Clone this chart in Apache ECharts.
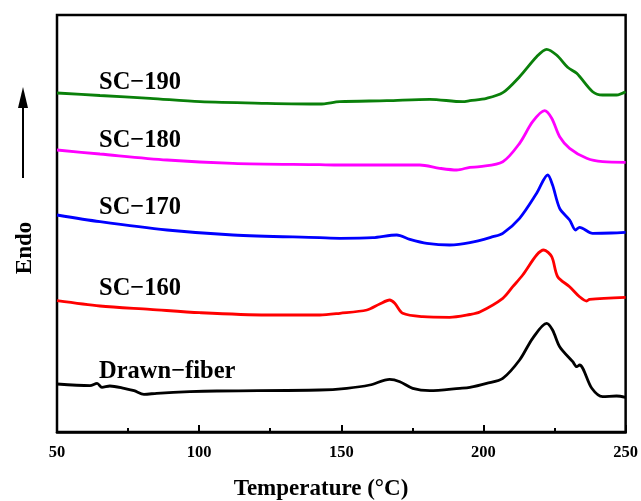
<!DOCTYPE html>
<html>
<head>
<meta charset="utf-8">
<script src="https://cdn.jsdelivr.net/npm/echarts@6/dist/echarts.min.js"></script>
<style>
  html, body { margin: 0; padding: 0; background: #fff; }
  #chart { width: 641px; height: 501px; }
</style>
</head>
<body>
<div id="chart"></div>
<script>
// DSC curves, heat flow in arbitrary units (offset stacked)
var tempTicks = [50, 100, 150, 200, 250];

var drawnT = [50, 61.6, 64.1, 65.8, 68.6, 73.6, 77.1, 80.6, 85.1, 96.7, 106.2, 142.4, 151.9, 160.0, 167.0, 170.6, 175.1, 181.1, 191.7, 195.2, 201.1, 206.8, 212.7, 217.3, 222.2, 224.3, 226.8, 231.4, 232.8, 233.8, 238.1, 241.9, 246.8, 250];
var drawnV = [48, 46.3, 48.7, 44.7, 46, 43.7, 41.3, 37.7, 38.7, 40.3, 41, 42, 43.7, 47, 52.7, 50.3, 43.7, 41.3, 43.7, 44.7, 48.7, 53.7, 72, 93.7, 108.7, 102, 85.3, 70.3, 65.3, 67, 43.7, 35.3, 36, 34.7];

var sc160T = [50, 65.1, 82.7, 100.3, 123.8, 142.4, 149.5, 159.0, 163.5, 167.0, 168.8, 171.6, 178.6, 188.1, 195.2, 198.7, 206.8, 210.3, 213.8, 218.7, 221.2, 224.0, 226.1, 230.3, 233.8, 236.3, 237.3, 250];
var sc160V = [131.3, 126, 122.7, 119.3, 117, 117, 118.7, 122, 128, 132, 128.7, 118.7, 115.3, 114.7, 117.5, 120, 133.7, 145.3, 157, 177, 182, 175.3, 155.3, 145.3, 135.3, 131, 132.7, 134.7];

var sc170T = [50, 65.1, 88.7, 111.9, 142.4, 149.5, 161.1, 169.5, 174.1, 180.1, 188.1, 195.2, 203.3, 206.8, 212.7, 218.7, 222.6, 224.3, 226.8, 230.3, 232.4, 233.8, 238.4, 245, 250];
var sc170V = [217, 210.3, 202, 197, 194.3, 193.7, 194.3, 197, 192.7, 188.7, 187, 189.3, 195.3, 198.7, 213.7, 238.7, 257, 247, 223.7, 212, 202, 204.7, 198.7, 199, 199.7];

var sc180T = [50, 65.1, 88.7, 111.9, 142.4, 149.5, 177.6, 184.6, 190.6, 195.2, 198.7, 206.8, 212.7, 217.3, 221.5, 224.0, 226.8, 230.3, 236.3, 241.9, 250];
var sc180V = [282, 278, 272, 268.7, 267.3, 267, 267, 263.7, 262, 264.7, 265.3, 270.3, 288.7, 310.3, 321.3, 313.7, 295.3, 283.7, 273.7, 270.3, 269.7];

var sc190T = [50, 65.1, 82.7, 100.3, 123.8, 142.4, 149.5, 166.0, 181.1, 192.7, 195.2, 201.1, 206.8, 212.7, 218.7, 222.2, 225.7, 229.6, 232.8, 238.4, 241.9, 246.8, 250];
var sc190V = [339, 336.5, 333.7, 330.3, 328.7, 328, 330.3, 331.3, 332.7, 330.3, 331.3, 333.7, 339.3, 355.3, 375.3, 382.7, 377, 364.7, 358.7, 340.3, 337, 337, 340.3];

var seriesNames = ['Drawn\u2212fiber', 'SC\u2212160', 'SC\u2212170', 'SC\u2212180', 'SC\u2212190'];
var seriesColors = ['#000000', '#ff0000', '#0000ff', '#ff00ff', '#0a800a'];
var labelY = [372, 289, 208, 141, 83];

function pairs(t, v) {
  var out = [];
  for (var i = 0; i < t.length; i++) {
    out.push([t[i], v[i]]);
  }
  return out;
}

var allData = [
  pairs(drawnT, drawnV),
  pairs(sc160T, sc160V),
  pairs(sc170T, sc170V),
  pairs(sc180T, sc180V),
  pairs(sc190T, sc190V)
];

var serif = '"Liberation Serif", "Times New Roman", serif';

var chart = echarts.init(document.getElementById('chart'));

var series = [];
var labels = [];
for (var k = 0; k < allData.length; k++) {
  series.push({
    name: seriesNames[k],
    type: 'line',
    data: allData[k],
    smooth: 0.3,
    showSymbol: false,
    lineStyle: { color: seriesColors[k], width: 2.8 }
  });
  labels.push({
    type: 'text',
    x: 99,
    y: labelY[k],
    style: {
      text: seriesNames[k],
      font: 'bold 24.5px ' + serif,
      fill: '#000',
      verticalAlign: 'middle'
    }
  });
}

// Endo arrow and label
labels.push({
  type: 'line',
  shape: { x1: 23, y1: 178, x2: 23, y2: 100 },
  style: { stroke: '#000', lineWidth: 2 }
});
labels.push({
  type: 'polygon',
  shape: { points: [[23, 87], [18, 108], [28, 108]] },
  style: { fill: '#000' }
});
labels.push({
  type: 'text',
  x: 25,
  y: 248,
  rotation: Math.PI / 2,
  style: {
    text: 'Endo',
    font: 'bold 23px ' + serif,
    fill: '#000',
    align: 'center',
    verticalAlign: 'middle'
  }
});
// x-axis title (sits left of the plot centre in the original)
labels.push({
  type: 'text',
  x: 321,
  y: 489,
  style: {
    text: 'Temperature (\u00B0C)',
    font: 'bold 23px ' + serif,
    fill: '#000',
    align: 'center',
    verticalAlign: 'middle'
  }
});

var option = {
  animation: false,
  backgroundColor: '#fff',
  grid: {
    left: 57,
    right: 15,
    top: 15,
    bottom: 69,
    show: true,
    borderColor: '#000',
    borderWidth: 2.5
  },
  xAxis: {
    type: 'value',
    min: tempTicks[0],
    max: tempTicks[tempTicks.length - 1],
    interval: 50,
    axisLine: { show: true, lineStyle: { color: '#000', width: 2.5 } },
    axisTick: { inside: true, length: 7, lineStyle: { color: '#000', width: 2 } },
    minorTick: { show: true, splitNumber: 2, length: 4, lineStyle: { color: '#000', width: 2 } },
    axisLabel: { margin: 12, fontFamily: serif, fontWeight: 'bold', fontSize: 16.5, color: '#000' },
    splitLine: { show: false }
  },
  yAxis: {
    type: 'value',
    min: 0,
    max: 417,
    axisLine: { show: false },
    axisTick: { show: false },
    axisLabel: { show: false },
    splitLine: { show: false }
  },
  graphic: labels,
  series: series
};

chart.setOption(option);
</script>
</body>
</html>
